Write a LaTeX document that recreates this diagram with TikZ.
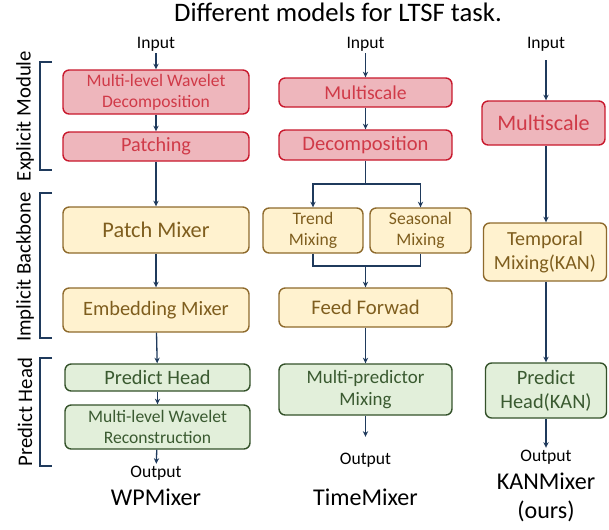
\documentclass[tikz,border=0pt]{standalone}
\usepackage{fontspec}
\setmainfont{Carlito}
\usetikzlibrary{arrows.meta}
\definecolor{redfill}{HTML}{EEB6BC}
\definecolor{redline}{HTML}{C8182C}
\definecolor{redtext}{HTML}{D03A48}
\definecolor{yelfill}{HTML}{FFF2CF}
\definecolor{yelline}{HTML}{8E6A2C}
\definecolor{yeltext}{HTML}{7F5E1E}
\definecolor{grnfill}{HTML}{E2EFDA}
\definecolor{grnline}{HTML}{34522A}
\definecolor{grntext}{HTML}{3A5A30}
\definecolor{navy}{HTML}{1F3A5C}

\begin{document}
\begin{tikzpicture}[x=0.02cm, y=-0.02cm, >={Stealth[length=3.2pt,width=3pt]},
  box/.style={draw, line width=0.8pt, rounded corners=3.5pt, align=center, inner sep=1pt},
  redbox/.style={box, draw=redline, fill=redfill, text=redtext},
  yelbox/.style={box, draw=yelline, fill=yelfill, text=yeltext},
  grnbox/.style={box, draw=grnline, fill=grnfill, text=grntext},
  link/.style={draw=navy, line width=0.75pt},
  io/.style={font=\fontsize{10}{12}\selectfont, inner sep=1pt},
  model/.style={font=\fontsize{13.7}{16.5}\selectfont, align=center, inner sep=0pt},
  side/.style={font=\fontsize{11.8}{13}\selectfont, rotate=90, inner sep=0pt}]
\useasboundingbox (0,0) rectangle (609,529);

\node[font=\fontsize{15.2}{17}\selectfont] (title) at (338,12) {Different models for LTSF task.};

\node[side] (sexp) at (25,116) {Explicit Module};
\node[side] (simp) at (25,267) {Implicit Backbone};
\node[side] (shead) at (25,412) {Predict Head};
\draw[link] (52,62) -- (40,62) -- (40,170) -- (52,170);
\draw[link] (52,193) -- (40,193) -- (40,338) -- (52,338);
\draw[link] (52,358) -- (40,358) -- (40,466) -- (52,466);

\node[io] (wpin) at (156,44) {Input};
\node[redbox, font=\fontsize{10}{12}\selectfont, minimum width=3.72cm, minimum height=0.88cm] (wpdec) at (156,92) {Multi-level Wavelet\\Decomposition};
\node[redbox, font=\fontsize{11.5}{13}\selectfont, minimum width=3.72cm, minimum height=0.58cm] (wppatch) at (156,146.5) {Patching};
\node[yelbox, font=\fontsize{12.7}{15}\selectfont, minimum width=3.72cm, minimum height=0.92cm] (wpmix) at (156,230) {Patch Mixer};
\node[yelbox, font=\fontsize{11.6}{14}\selectfont, minimum width=3.72cm, minimum height=0.88cm] (wpemb) at (156,310) {Embedding Mixer};
\node[grnbox, font=\fontsize{11.6}{14}\selectfont, minimum width=3.7cm, minimum height=0.54cm] (wphead) at (157.5,377.5) {Predict Head};
\node[grnbox, font=\fontsize{10}{12}\selectfont, minimum width=3.7cm, minimum height=0.88cm] (wprec) at (157.5,427) {Multi-level Wavelet\\Reconstruction};
\node[io] (wpout) at (156,473) {Output};
\node[model] (wpname) at (156,497) {WPMixer};
\draw[link, ->] (wpin) -- (wpdec);
\draw[link, ->] (wpdec) -- (wppatch);
\draw[link, ->] (wppatch) -- (wpmix);
\draw[link, ->] (wpmix) -- (wpemb);
\draw[link, ->] (wpemb) -- (wphead);
\draw[link, ->] (wphead) -- (wprec);
\draw[link, ->] (wprec) -- (wpout);

\node[io] (tmin) at (365.5,44) {Input};
\node[redbox, font=\fontsize{11.2}{13}\selectfont, minimum width=3.46cm, minimum height=0.58cm] (tmscale) at (365.5,92.5) {Multiscale};
\node[redbox, font=\fontsize{11.7}{14}\selectfont, minimum width=3.46cm, minimum height=0.6cm] (tmdec) at (365.5,145) {Decomposition};
\node[yelbox, font=\fontsize{10}{12}\selectfont, minimum width=2cm, minimum height=0.9cm] (tmtrend) at (313,230.5) {Trend\\Mixing};
\node[yelbox, font=\fontsize{10}{12}\selectfont, minimum width=2.02cm, minimum height=0.9cm] (tmseas) at (420.5,230.5) {Seasonal\\Mixing};
\node[yelbox, font=\fontsize{11.8}{14}\selectfont, minimum width=3.46cm, minimum height=0.78cm] (tmff) at (365.5,307.5) {Feed Forwad};
\node[grnbox, font=\fontsize{10.8}{13}\selectfont, minimum width=3.46cm, minimum height=1.02cm] (tmpred) at (365.5,389.5) {Multi-predictor\\Mixing};
\node[io] (tmout) at (365.5,460) {Output};
\node[model] (tmname) at (365.5,497) {TimeMixer};
\coordinate (tmsplit) at (365.5,184);
\coordinate (tmjoin) at (365.5,266);
\draw[link, ->] (tmin) -- (tmscale);
\draw[link, ->] (tmscale) -- (tmdec);
\draw[link] (tmdec) -- (tmsplit);
\draw[link, ->] (tmsplit) -| (tmtrend);
\draw[link, ->] (tmsplit) -| (tmseas);
\draw[link] (tmtrend) |- (tmjoin) -| (tmseas);
\draw[link, ->] (tmjoin) -- (tmff);
\draw[link, ->] (tmff) -- (tmpred);
\draw[link, ->, shorten >=0.28cm] (tmpred) -- (tmout);

\node[io] (kmin) at (546,44) {Input};
\node[redbox, font=\fontsize{12.6}{15}\selectfont, minimum width=2.46cm, minimum height=0.88cm] (kmscale) at (543.5,123) {Multiscale};
\node[yelbox, font=\fontsize{11.4}{13.5}\selectfont, minimum width=2.46cm, minimum height=1.16cm] (kmtemp) at (545,252) {Temporal\\Mixing(KAN)};
\node[grnbox, font=\fontsize{11.6}{13.5}\selectfont, minimum width=2.42cm, minimum height=1.1cm] (kmhead) at (546,390.5) {Predict\\Head(KAN)};
\node[io] (kmout) at (546,457) {Output};
\node[model] (kmname) at (546,497) {KANMixer\\(ours)};
\draw[link, ->, shorten <=0.14cm] (kmin) -- (kmscale.north -| kmin);
\draw[link, ->] (kmscale.south -| kmin) -- (kmtemp.north -| kmin);
\draw[link, ->] (kmtemp.south -| kmin) -- (kmhead.north -| kmin);
\draw[link, ->] (kmhead.south -| kmin) -- (kmout);
\end{tikzpicture}
\end{document}
